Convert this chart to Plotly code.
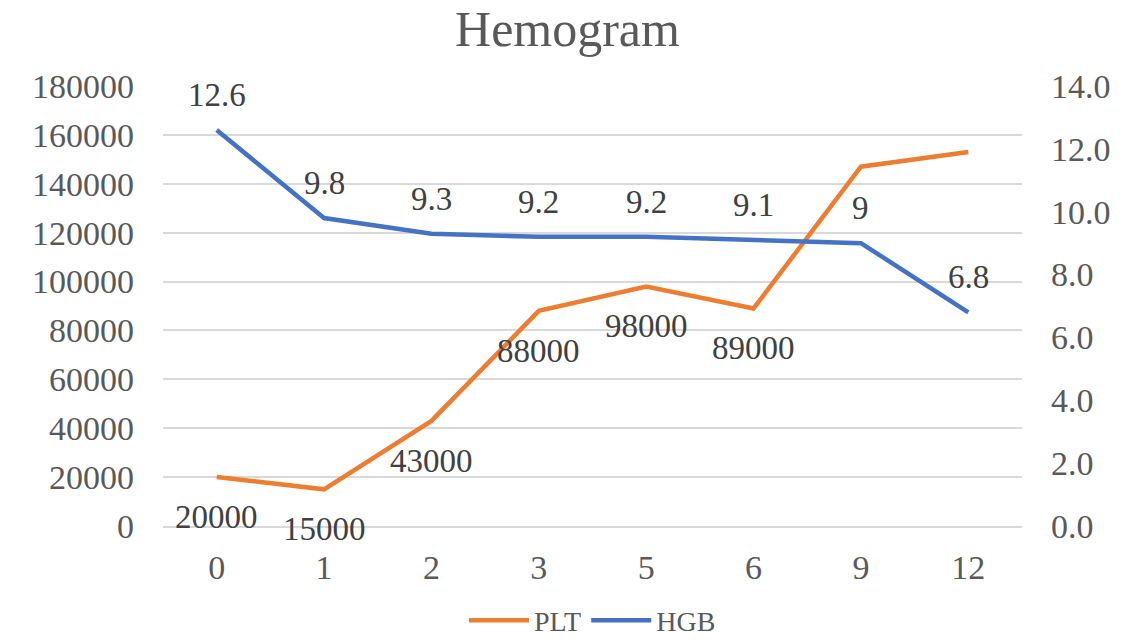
import plotly.graph_objects as go

months = ["0", "1", "2", "3", "5", "6", "9", "12"]
plt_vals = [20000, 15000, 43000, 88000, 98000, 89000, 147000, 153000]
plt_labels = ["20000", "15000", "43000", "88000", "98000", "89000", "", ""]
hgb_vals = [12.6, 9.8, 9.3, 9.2, 9.2, 9.1, 9.0, 6.8]
hgb_labels = ["12.6", "9.8", "9.3", "9.2", "9.2", "9.1", "9", "6.8"]

plt_color = "#ED7D31"
hgb_color = "#4472C4"
grid_color = "#D9D9D9"
text_color = "#595959"
font = "Liberation Serif"

fig = go.Figure()
fig.add_trace(go.Scatter(x=months, y=plt_vals, name="PLT", mode="lines",
                         line=dict(color=plt_color, width=4.5), yaxis="y"))
fig.add_trace(go.Scatter(x=months, y=hgb_vals, name="HGB", mode="lines",
                         line=dict(color=hgb_color, width=4.5), yaxis="y2"))

# data labels, Excel style: PLT below, HGB above
# (category position by index: numeric-looking strings would be read as indices)
annotations = []
for i, (v, t) in enumerate(zip(plt_vals, plt_labels)):
    if t:
        annotations.append(dict(x=i, y=v, xref="x", yref="y", text=t, showarrow=False,
                                yshift=-40, font=dict(size=33, color="#404040", family=font)))
for i, (v, t) in enumerate(zip(hgb_vals, hgb_labels)):
    annotations.append(dict(x=i, y=v, xref="x", yref="y2", text=t, showarrow=False,
                            yshift=35, font=dict(size=33, color="#404040", family=font)))

fig.update_layout(
    width=1135, height=642,
    paper_bgcolor="white", plot_bgcolor="white",
    font=dict(family=font, size=34, color=text_color),
    title=dict(text="Hemogram", x=0.5, xanchor="center", y=0.955, yanchor="middle",
               font=dict(size=50, color=text_color, family=font)),
    margin=dict(l=163, r=113, t=86, b=116, autoexpand=False),
    xaxis=dict(type="category", range=[-0.5, 7.5], showgrid=False,
               showline=True, linecolor=grid_color, linewidth=1.5,
               ticks="", ticklabelstandoff=10, zeroline=False),
    yaxis=dict(range=[0, 180000], dtick=20000, showgrid=True, gridcolor=grid_color,
               gridwidth=1.5, zeroline=False, showline=False, ticklabelstandoff=28,
               tickformat="d"),
    yaxis2=dict(range=[0, 14], dtick=2, tickformat=".1f", overlaying="y", side="right",
                showgrid=False, zeroline=False, showline=False, ticklabelstandoff=28),
    legend=dict(orientation="h", x=0.5, xanchor="center", y=-0.215, yanchor="middle",
                font=dict(size=28, color=text_color, family=font), itemwidth=60,
                tracegroupgap=0),
    annotations=annotations,
    showlegend=True,
)

fig.write_html("out.html", config={"displayModeBar": False},
               post_script="document.body.style.margin='0';")
